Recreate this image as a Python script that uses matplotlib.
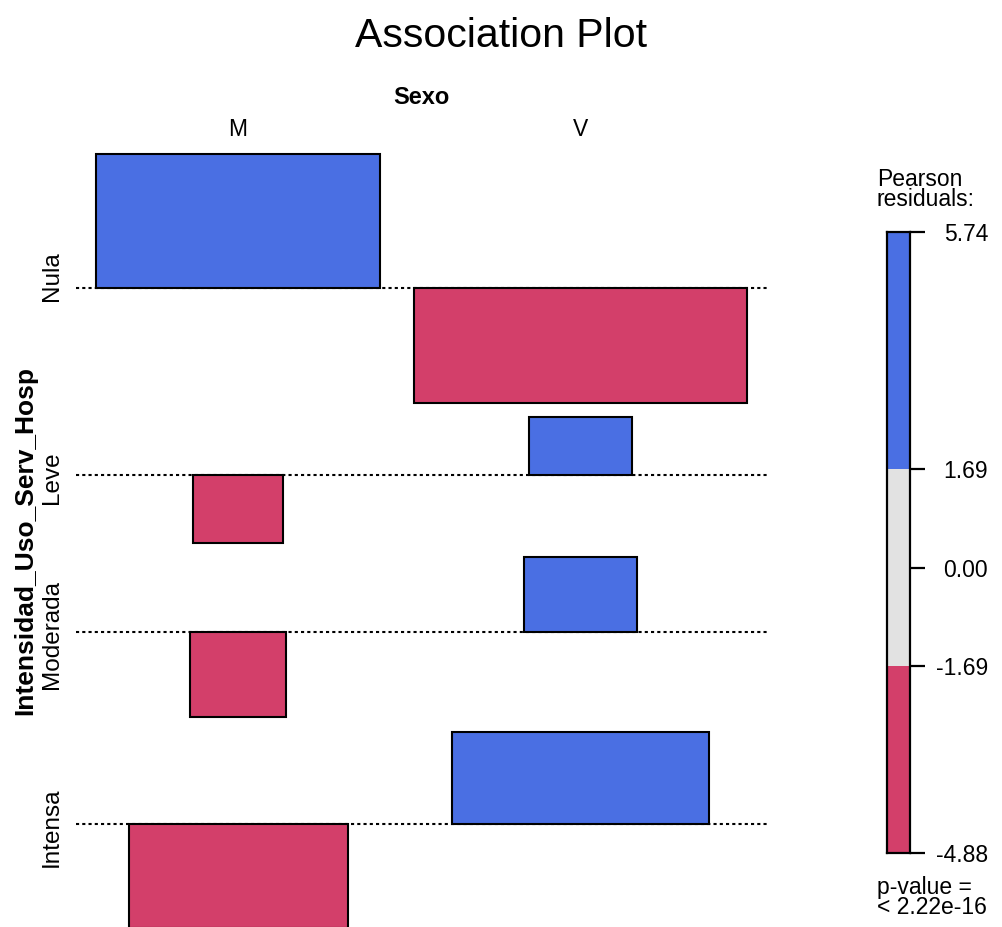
import numpy as np
import matplotlib
matplotlib.use("Agg")
import matplotlib.pyplot as plt

plt.rcParams['font.family'] = ['Liberation Sans', 'DejaVu Sans']

# datos
filas = ['Nula', 'Leve', 'Moderada', 'Intensa']
columnas = ['M', 'V']
# residuos de Pearson (filas x columnas)
residuos = np.array([[5.74, -4.88],
                     [-2.91, 2.48],
                     [-3.63, 3.21],
                     [-4.42, 3.97]])
# raiz de la frecuencia esperada (ancho de cada barra)
raiz_esperado = np.array([[12.14, 14.23],
                          [3.85, 4.44],
                          [4.10, 4.87],
                          [9.36, 10.98]])
cortes_leyenda = [-4.88, -1.69, 1.69, 5.74]
etiquetas_leyenda = ['5.74', '1.69', '0.00', '-1.69', '-4.88']
valores_leyenda = [5.74, 1.69, 0.0, -1.69, -4.88]
p_valor = '< 2.22e-16'

AZUL = '#4A6FE3'
ROJO = '#D33F6A'
GRIS = '#E2E2E2'

W, H = 1003, 927
PX = 23.4          # pixeles por unidad
X0, Y0 = 96, 154   # esquina superior izquierda del mosaico
HUECO_F = 0.61     # separacion entre filas
HUECO_C = 1.45     # separacion entre columnas
EXTRA = 0.85       # linea punteada fuera de las columnas


def color_de(r):
    if r > cortes_leyenda[2]:
        return AZUL
    if r < cortes_leyenda[1]:
        return ROJO
    return GRIS


fig = plt.figure(figsize=(W / 100, H / 100), dpi=100)
ax = fig.add_axes([0, 0, 1, 1])
ax.set_xlim(-X0 / PX, (W - X0) / PX)
ax.set_ylim((H - Y0) / PX, -Y0 / PX)
ax.axis('off')

# posiciones de las columnas
ancho_col = raiz_esperado.max(axis=0)
izq_col = np.concatenate([[0], np.cumsum(ancho_col + HUECO_C)[:-1]])
centro_col = izq_col + ancho_col / 2

# posiciones de las filas
sup = residuos.clip(min=0).max(axis=1)
inf = (-residuos).clip(min=0).max(axis=1)
techo = []
t = 0.0
for i in range(len(filas)):
    techo.append(t)
    t += sup[i] + inf[i] + HUECO_F
techo = np.array(techo)
base = techo + sup
fondo = base + inf

x_ini = izq_col[0] - EXTRA
x_fin = izq_col[-1] + ancho_col[-1] + EXTRA
for i, fila in enumerate(filas):
    ax.plot([x_ini, x_fin], [base[i], base[i]], color='black', lw=1.5,
            linestyle=(0, (1.5, 1.5)), zorder=1)
    for j in range(len(columnas)):
        r = residuos[i, j]
        ax.bar(centro_col[j], -r, bottom=base[i], width=raiz_esperado[i, j],
               color=color_de(r), edgecolor='black', linewidth=1.5, zorder=2)
    ax.text((52 - X0) / PX, (techo[i] + fondo[i]) / 2 - 0.1, fila, rotation=90,
            ha='center', va='center', fontsize=17.5)

# etiquetas de columnas
for j, col in enumerate(columnas):
    ax.text(centro_col[j], -1.05, col, ha='center', va='center', fontsize=16.5)
ax.text((izq_col[0] + izq_col[-1] + ancho_col[-1]) / 2, -2.43, 'Sexo',
        ha='center', va='center', fontsize=17, fontweight='bold')
ax.text((25 - X0) / PX, (techo[0] + fondo[-1]) / 2, 'Intensidad_Uso_Serv_Hosp',
        rotation=90, ha='center', va='center', fontsize=19, fontweight='bold')

fig.text(0.5, 1 - 36 / H, 'Association Plot', ha='center', va='center',
         fontsize=29.5)

# leyenda
lx0, lx1, ly0, ly1 = 887, 910, 232, 853
ax_l = fig.add_axes([lx0 / W, 1 - ly1 / H, (lx1 - lx0) / W, (ly1 - ly0) / H])
ax_l.set_xlim(0, 1)
ax_l.set_ylim(cortes_leyenda[0], cortes_leyenda[-1])
for a, b, c in zip(cortes_leyenda[:-1], cortes_leyenda[1:], [ROJO, GRIS, AZUL]):
    ax_l.bar(0.5, b - a, bottom=a, width=1, color=c, linewidth=0)
for s in ax_l.spines.values():
    s.set_linewidth(1.6)
ax_l.set_xticks([])
ax_l.yaxis.tick_right()
ax_l.set_yticks(valores_leyenda)
ax_l.set_yticklabels(etiquetas_leyenda, fontsize=16.5)
ax_l.tick_params(axis='y', length=10.8, width=1.6, pad=45.5)
for lab in ax_l.get_yticklabels():
    lab.set_horizontalalignment('right')

fig.text(877 / W, 1 - 168 / H, 'Pearson\nresiduals:', ha='left', va='top',
         fontsize=16.5, linespacing=0.85)
fig.text(877 / W, 1 - 876 / H, 'p-value =\n' + p_valor, ha='left', va='top',
         fontsize=16.5, linespacing=0.85)

fig.savefig('out.png', dpi=100)
